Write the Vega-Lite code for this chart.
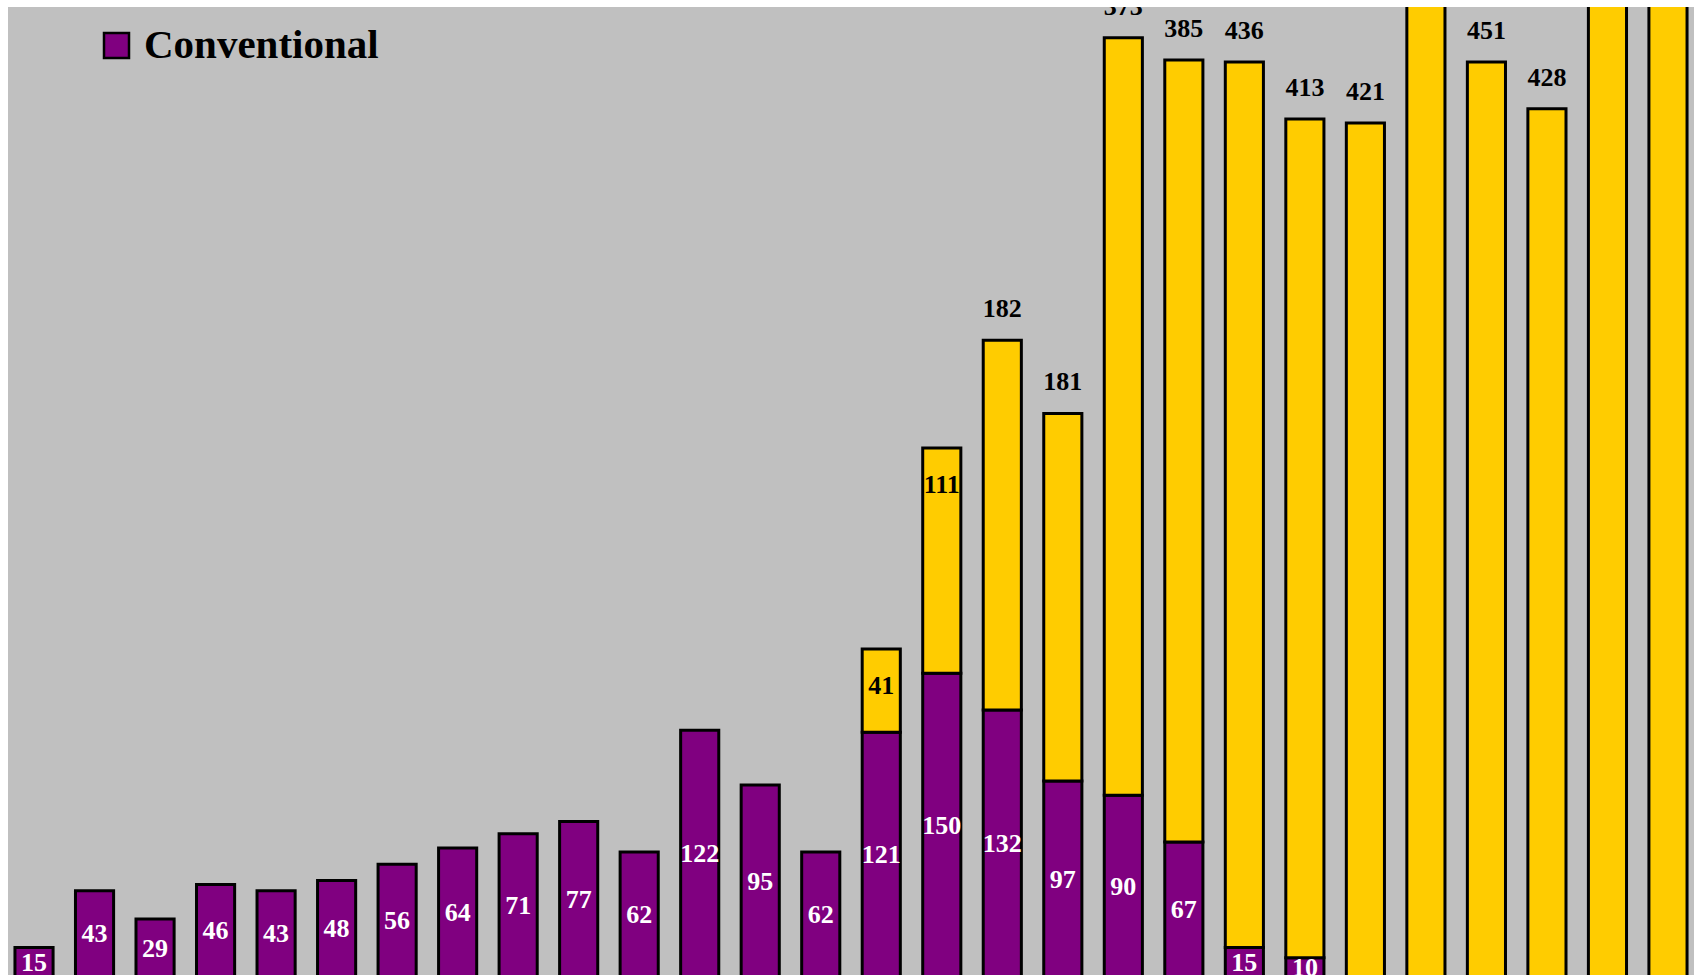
{
  "$schema": "https://vega.github.io/schema/vega-lite/v6.json",
  "autosize": {"type": "none"},
  "padding": {"left": 8, "top": 7, "right": 0, "bottom": 0},
  "width": 1686,
  "height": 968,
  "background": "white",
  "config": {
    "view": {"fill": "#C0C0C0", "stroke": null},
    "text": {"font": "Liberation Serif", "fontWeight": "bold", "fontSize": 26}
  },
  "data": {
    "values": [
      {"bar": 1, "type": "Conventional", "value": 15},
      {"bar": 2, "type": "Conventional", "value": 43},
      {"bar": 3, "type": "Conventional", "value": 29},
      {"bar": 4, "type": "Conventional", "value": 46},
      {"bar": 5, "type": "Conventional", "value": 43},
      {"bar": 6, "type": "Conventional", "value": 48},
      {"bar": 7, "type": "Conventional", "value": 56},
      {"bar": 8, "type": "Conventional", "value": 64},
      {"bar": 9, "type": "Conventional", "value": 71},
      {"bar": 10, "type": "Conventional", "value": 77},
      {"bar": 11, "type": "Conventional", "value": 62},
      {"bar": 12, "type": "Conventional", "value": 122},
      {"bar": 13, "type": "Conventional", "value": 95},
      {"bar": 14, "type": "Conventional", "value": 62},
      {"bar": 15, "type": "Conventional", "value": 121},
      {"bar": 15, "type": "Hybrid", "value": 41},
      {"bar": 16, "type": "Conventional", "value": 150},
      {"bar": 16, "type": "Hybrid", "value": 111},
      {"bar": 17, "type": "Conventional", "value": 132},
      {"bar": 17, "type": "Hybrid", "value": 182},
      {"bar": 18, "type": "Conventional", "value": 97},
      {"bar": 18, "type": "Hybrid", "value": 181},
      {"bar": 19, "type": "Conventional", "value": 90},
      {"bar": 19, "type": "Hybrid", "value": 373},
      {"bar": 20, "type": "Conventional", "value": 67},
      {"bar": 20, "type": "Hybrid", "value": 385},
      {"bar": 21, "type": "Conventional", "value": 15},
      {"bar": 21, "type": "Hybrid", "value": 436},
      {"bar": 22, "type": "Conventional", "value": 10},
      {"bar": 22, "type": "Hybrid", "value": 413},
      {"bar": 23, "type": "Hybrid", "value": 421},
      {"bar": 24, "type": "Hybrid", "value": 490},
      {"bar": 25, "type": "Hybrid", "value": 451},
      {"bar": 26, "type": "Hybrid", "value": 428},
      {"bar": 27, "type": "Hybrid", "value": 500},
      {"bar": 28, "type": "Hybrid", "value": 510}
    ]
  },
  "encoding": {
    "x": {
      "field": "bar",
      "type": "ordinal",
      "axis": null,
      "scale": {"paddingInner": 0.37, "paddingOuter": 0.115}
    }
  },
  "layer": [
    {
      "mark": {"type": "bar", "stroke": "black", "strokeWidth": 3, "clip": true},
      "encoding": {
        "y": {
          "field": "value",
          "type": "quantitative",
          "stack": "zero",
          "axis": null,
          "scale": {"domain": [1.48, 478.1], "zero": false, "nice": false}
        },
        "color": {
          "field": "type",
          "type": "nominal",
          "scale": {"domain": ["Conventional", "Hybrid"], "range": ["#800080", "#FFCC00"]},
          "legend": {
            "orient": "none",
            "legendX": 88,
            "legendY": 18,
            "title": null,
            "values": ["Conventional"],
            "symbolType": "square",
            "symbolSize": 625,
            "symbolStrokeWidth": 2.5,
            "symbolStrokeColor": "black",
            "symbolOpacity": 1,
            "labelFont": "Liberation Serif",
            "labelFontSize": 41,
            "labelFontWeight": "bold",
            "labelColor": "black",
            "labelOffset": 7,
            "labelLimit": 0,
            "padding": 0
          }
        },
        "order": {"field": "type", "sort": "ascending"}
      }
    },
    {
      "transform": [{"filter": "datum.type === 'Conventional'"}],
      "mark": {"type": "text", "color": "white", "baseline": "middle", "clip": true},
      "encoding": {
        "y": {"field": "value", "type": "quantitative", "stack": "zero", "bandPosition": 0.5},
        "text": {"field": "value", "type": "quantitative"}
      }
    },
    {
      "transform": [
        {"stack": "value", "groupby": ["bar"], "sort": [{"field": "type", "order": "ascending"}], "as": ["v0", "v1"]},
        {"filter": "datum.type === 'Hybrid' && (datum.bar === 15 || datum.bar === 16)"}
      ],
      "mark": {"type": "text", "color": "black", "baseline": "middle", "dy": 37, "clip": true},
      "encoding": {
        "y": {"field": "v1", "type": "quantitative"},
        "text": {"field": "value", "type": "quantitative"}
      }
    },
    {
      "transform": [
        {"stack": "value", "groupby": ["bar"], "sort": [{"field": "type", "order": "ascending"}], "as": ["v0", "v1"]},
        {"filter": "datum.type === 'Hybrid' && datum.bar !== 15 && datum.bar !== 16"}
      ],
      "mark": {"type": "text", "color": "black", "baseline": "middle", "dy": -31, "clip": true},
      "encoding": {
        "y": {"field": "v1", "type": "quantitative"},
        "text": {"field": "value", "type": "quantitative"}
      }
    }
  ]
}
